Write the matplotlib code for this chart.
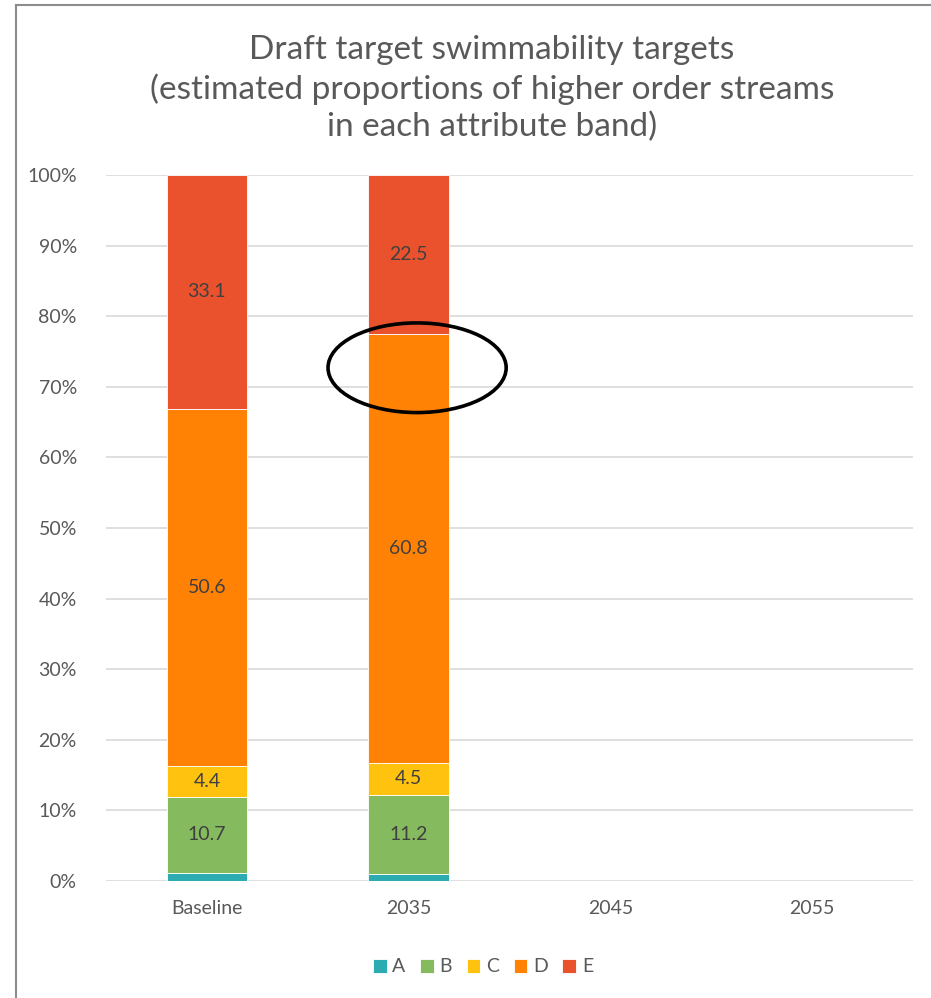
import matplotlib.pyplot as plt
from matplotlib.patches import Ellipse
import numpy as np

plt.rcParams['font.family'] = ['Lato', 'DejaVu Sans']

categories = ['Baseline', '2035', '2045', '2055']
bands = ['A', 'B', 'C', 'D', 'E']
# percent of higher order streams in each band (2045/2055 not set yet)
band_A = [1.2, 1.0, 0, 0]
band_B = [10.7, 11.2, 0, 0]
band_C = [4.4, 4.5, 0, 0]
band_D = [50.6, 60.8, 0, 0]
band_E = [33.1, 22.5, 0, 0]
colors = ['#2CACB1', '#86BA5E', '#FFC20E', '#FF8205', '#E9522D']

series = [band_A, band_B, band_C, band_D, band_E]
labelled = {'B', 'C', 'D', 'E'}

fig = plt.figure(figsize=(9.31, 9.98), dpi=100)
ax = fig.add_axes([106 / 931, 1 - 881 / 998, (913 - 106) / 931, (881 - 175) / 998])

x = np.arange(len(categories))
bottom = np.zeros(len(categories))
for name, vals, col in zip(bands, series, colors):
    vals = np.array(vals, dtype=float)
    ax.bar(x, vals, 0.40, bottom=bottom, color=col, edgecolor='white',
           linewidth=0.6, label=name, zorder=2)
    if name in labelled:
        for xi, v, b in zip(x, vals, bottom):
            if v > 0:
                ax.text(xi, b + v / 2, f'{v:.1f}', ha='center', va='center',
                        fontsize=14, color='#404040', zorder=3)
    bottom += vals

ax.set_xlim(-0.5, len(categories) - 0.5)
ax.set_ylim(0, 100)
ax.set_yticks(np.arange(0, 101, 10))
ax.set_yticklabels([f'{t}%' for t in range(0, 101, 10)])
ax.set_xticks(x)
ax.set_xticklabels(categories)
ax.tick_params(axis='both', length=0, labelsize=14, labelcolor='#595959')
ax.tick_params(axis='y', pad=21)
ax.tick_params(axis='x', pad=14)
ax.grid(axis='y', color='#D9D9D9', linewidth=1.2, zorder=0)
for s in ax.spines.values():
    s.set_visible(False)

# highlight ring on the 2035 bar
ax.add_patch(Ellipse((1.042, 72.7), 0.883, 12.7, fill=False, edgecolor='black',
                     linewidth=2.6, zorder=4, clip_on=False))

fig.text(492 / 931, 1 - 89 / 998,
         'Draft target swimmability targets\n(estimated proportions of higher order streams\nin each attribute band)',
         ha='center', va='center', fontsize=24, color='#595959', linespacing=1.3)

handles, labels = ax.get_legend_handles_labels()
fig.legend(handles, labels, loc='center', bbox_to_anchor=(483 / 931, 1 - 967 / 998),
           ncol=5, frameon=False, fontsize=14, handlelength=0.7, handleheight=0.7,
           handletextpad=0.3, columnspacing=0.75, labelcolor='#595959')

# chart frame (left and top edges)
fig.add_artist(plt.Line2D([16 / 931, 16 / 931], [0, 1 - 5 / 998], color='#8C8C8C',
                          linewidth=1.5, transform=fig.transFigure))
fig.add_artist(plt.Line2D([16 / 931, 1], [1 - 5 / 998, 1 - 5 / 998], color='#8C8C8C',
                          linewidth=1.5, transform=fig.transFigure))

fig.savefig('out.png', dpi=100)
